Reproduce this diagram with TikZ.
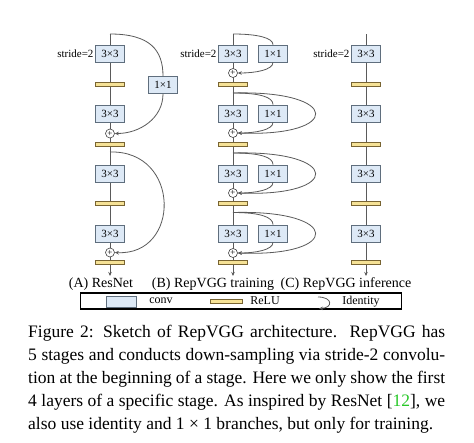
\documentclass[tikz,border=0pt]{standalone}
\usepackage{fontspec}
\setmainfont{Liberation Serif}
\usetikzlibrary{arrows.meta,positioning}
\definecolor{convfill}{RGB}{221,233,246}
\definecolor{convborder}{RGB}{95,110,125}
\definecolor{relufill}{RGB}{246,226,150}
\definecolor{reluborder}{RGB}{120,100,50}
\definecolor{linegray}{RGB}{90,90,90}
\definecolor{citegreen}{RGB}{40,200,40}
\begin{document}
\begin{tikzpicture}[x=1pt,y=-1pt,
  line/.style={draw=linegray, line width=0.8pt},
  arr/.style={-{Stealth[length=4pt,width=3.5pt]}},
  conv/.style={draw=convborder, fill=convfill, minimum width=29pt, minimum height=17pt, inner sep=0pt, font=\fontsize{11}{13}\selectfont, line width=0.7pt},
  relu/.style={draw=reluborder, fill=relufill, minimum width=29pt, minimum height=4pt, inner sep=0pt, line width=0.6pt},
  plus/.style={circle, draw=black!75, fill=white, minimum size=9pt, inner sep=0pt, font=\fontsize{9}{9}\selectfont, line width=0.6pt},
  lbl/.style={font=\fontsize{11}{13}\selectfont, inner sep=0pt},
  title/.style={font=\fontsize{14}{16}\selectfont, inner sep=0pt},
  legtext/.style={font=\fontsize{12}{14}\selectfont, inner sep=0pt}]
\useasboundingbox (0,0) rectangle (474,442);
\fill[white] (0,0) rectangle (474,442);

% ---------------- Column A: ResNet ----------------
\coordinate (Atop) at (110,34);
\coordinate (Aend) at (110,276);
\draw[line,arr] (Atop) -- (Aend);
\node[conv] (A1) at (110,53.5) {3×3};
\node[relu] (Ar1) at (110,84) {};
\node[conv] (A2) at (110,113.5) {3×3};
\node[plus] (Ap1) at (110,133.5) {+};
\node[relu] (Ar2) at (110,144) {};
\node[conv] (A3) at (110,173.5) {3×3};
\node[relu] (Ar3) at (110,203.5) {};
\node[conv] (A4) at (110,233.5) {3×3};
\node[plus] (Ap2) at (110,252.5) {+};
\node[relu] (Ar4) at (110,262.5) {};
\node[conv] (A11) at (163,85) {1×1};
\node[lbl, left=1.5pt of A1] {stride=2};
\draw[line] (Atop) .. controls (150,34) and (163,50) .. (A11.north);
\draw[line,arr] (A11.south) .. controls (163,118) and (140,133.5) .. (Ap1.east);
\coordinate (As2) at (110,152);
\draw[line,arr] (As2) .. controls (181,150) and (181,256) .. (Ap2.east);

% ---------------- Column B: RepVGG training ----------------
\coordinate (Btop) at (233,34);
\coordinate (Bend) at (233,276);
\draw[line,arr] (Btop) -- (Bend);
\node[conv] (B1) at (233,53.5) {3×3};
\node[conv] (B11) at (273,53.5) {1×1};
\node[plus] (Bp1) at (233,73) {+};
\node[relu] (Br1) at (233,84) {};
\node[lbl, left=1.5pt of B1] {stride=2};
\draw[line] (Btop) .. controls (258,34) and (273,38) .. (B11.north);
\draw[line,arr] (B11.south) .. controls (273,70) and (255,73) .. (Bp1.east);

\coordinate (Bs2) at (233,93);
\node[conv] (B2) at (233,113.5) {3×3};
\node[conv] (B21) at (273,113.5) {1×1};
\node[plus] (Bp2) at (233,133) {+};
\node[relu] (Br2) at (233,144) {};
\draw[line] (Bs2) .. controls (260,93) and (273,97) .. (B21.north);
\draw[line,arr] (B21.south) .. controls (273,130) and (255,133) .. (Bp2.east);
\draw[line,arr] (Bs2) .. controls (342,90) and (342,137) .. (Bp2.east);

\coordinate (Bs3) at (233,153);
\node[conv] (B3) at (233,173.5) {3×3};
\node[conv] (B31) at (273,173.5) {1×1};
\node[plus] (Bp3) at (233,193) {+};
\node[relu] (Br3) at (233,203.5) {};
\draw[line] (Bs3) .. controls (260,153) and (273,157) .. (B31.north);
\draw[line,arr] (B31.south) .. controls (273,190) and (255,193) .. (Bp3.east);
\draw[line,arr] (Bs3) .. controls (342,150) and (342,197) .. (Bp3.east);

\coordinate (Bs4) at (233,212.5);
\node[conv] (B4) at (233,233.5) {3×3};
\node[conv] (B41) at (273,233.5) {1×1};
\node[plus] (Bp4) at (233,253) {+};
\node[relu] (Br4) at (233,262.5) {};
\draw[line] (Bs4) .. controls (260,212.5) and (273,217) .. (B41.north);
\draw[line,arr] (B41.south) .. controls (273,250) and (255,253) .. (Bp4.east);
\draw[line,arr] (Bs4) .. controls (342,209.5) and (342,257) .. (Bp4.east);

% ---------------- Column C: RepVGG inference ----------------
\coordinate (Ctop) at (366,34);
\coordinate (Cend) at (366,276);
\draw[line,arr] (Ctop) -- (Cend);
\node[conv] (C1) at (366,53.5) {3×3};
\node[relu] (Cr1) at (366,84) {};
\node[conv] (C2) at (366,113.5) {3×3};
\node[relu] (Cr2) at (366,144) {};
\node[conv] (C3) at (366,173.5) {3×3};
\node[relu] (Cr3) at (366,203.5) {};
\node[conv] (C4) at (366,233.5) {3×3};
\node[relu] (Cr4) at (366,262.5) {};
\node[lbl, left=1.5pt of C1] {stride=2};

% ---------------- Titles ----------------
\node[title] (tA) at (101,284) {(A) ResNet};
\node[title] (tB) at (213,284) {(B) RepVGG training};
\node[title] (tC) at (346,284) {(C) RepVGG inference};

% ---------------- Legend ----------------
\node[draw=black, line width=1.5pt, minimum width=321pt, minimum height=16pt, inner sep=0pt] (leg) at (241.2,301) {};
\node[conv, minimum width=30pt, minimum height=11pt] (lconv) at (121.7,301.5) {};
\node[legtext] (lconvt) at (161,300.5) {conv};
\node[relu, minimum width=32pt] (lrelu) at (226,301.5) {};
\node[legtext] (lrelut) at (265,301) {ReLU};
\coordinate (li1) at (318,297);
\coordinate (li2) at (319,308.5);
\draw[line,arr] (li1) .. controls (333,297) and (333,308) .. (li2);
\node[legtext] (lidt) at (361,301.5) {Identity};

% ---------------- Caption ----------------
\node[anchor=north west, inner sep=0pt, text width=417pt, align=justify,
      font=\fontsize{17.5}{23}\selectfont] (cap) at (28,325) {%
Figure 2: Sketch of RepVGG architecture.\ \ RepVGG has\linebreak
5 stages and conducts down-sampling via stride-2 convolu-\linebreak
tion at the beginning of a stage. Here we only show the first\linebreak
4 layers of a specific stage. As inspired by ResNet [\textcolor{citegreen}{12}], we\linebreak
also use identity and 1~×~1 branches, but only for training.};
\end{tikzpicture}
\end{document}
